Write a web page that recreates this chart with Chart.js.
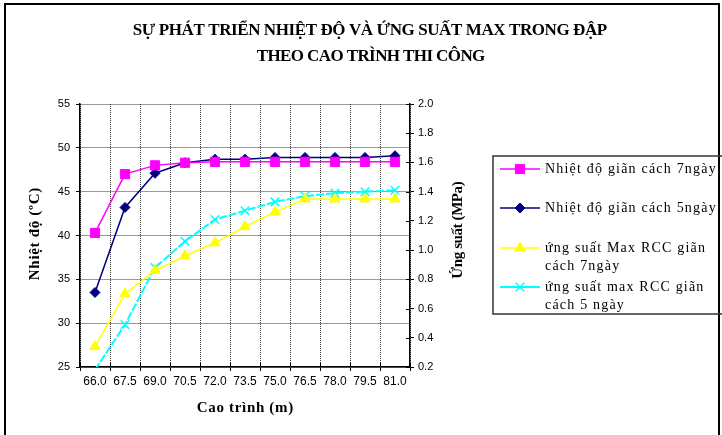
<!DOCTYPE html>
<html>
<head>
<meta charset="utf-8">
<script src="https://cdn.jsdelivr.net/npm/chart.js@4.4.0/dist/chart.umd.min.js"></script>
<style>
  html, body { margin: 0; padding: 0; background: #fff; }
  #chart { display: block; }
</style>
</head>
<body>
<canvas id="chart" width="722" height="435"></canvas>
<script>
// cao trình thi công (m)
const caoTrinh = ["66.0", "67.5", "69.0", "70.5", "72.0", "73.5", "75.0", "76.5", "78.0", "79.5", "81.0"];

// nhiệt độ max (°C)
const nhietDo7ngay = [40.3, 47.0, 48.0, 48.3, 48.4, 48.4, 48.4, 48.4, 48.4, 48.4, 48.4];
const nhietDo5ngay = [33.5, 43.2, 47.1, 48.3, 48.7, 48.7, 48.9, 48.9, 48.9, 48.9, 49.1];

// ứng suất max (MPa)
const ungSuat7ngay = [0.34, 0.70, 0.86, 0.96, 1.05, 1.16, 1.26, 1.35, 1.35, 1.35, 1.35];
const ungSuat5ngay = [0.18, 0.49, 0.88, 1.06, 1.21, 1.27, 1.33, 1.37, 1.39, 1.40, 1.41];

const tieuDe = ["SỰ PHÁT TRIỂN NHIỆT ĐỘ VÀ ỨNG SUẤT MAX TRONG ĐẬP", "THEO CAO TRÌNH THI CÔNG"];
const chuGiai = [
  ["Nhiệt độ giãn cách 7ngày"],
  ["Nhiệt độ giãn cách 5ngày"],
  ["ứng suất Max RCC giãn", "cách 7ngày"],
  ["ứng suất max RCC giãn", "cách 5 ngày"]
];

const sans = "'Liberation Sans', Arial, sans-serif";
const serif = "'Liberation Serif', 'Times New Roman', serif";

// markers outside the plot area are not drawn
const hideOutside = (r) => (ctx) => {
  const v = ctx.raw;
  return (v == null || v < 0.2 || v > 2.0) ? 0 : r;
};

// spread the letters so a line of text covers the given width
function spreadText(ctx, text, x, y, width) {
  ctx.letterSpacing = "0px";
  const w = ctx.measureText(text).width;
  const sp = (width - w) / text.length;
  ctx.letterSpacing = sp + "px";
  ctx.fillText(text, x + sp / 2, y);
  ctx.letterSpacing = "0px";
  return sp;
}

const khung = {
  id: "khung",
  afterDraw(chart) {
    const ctx = chart.ctx;
    const area = chart.chartArea;
    ctx.save();

    // outer frame
    ctx.strokeStyle = "#000";
    ctx.lineWidth = 2;
    ctx.strokeRect(5, 4, 714, 440);

    // inner tick marks on the right and bottom axes
    ctx.lineWidth = 1;
    const y1 = chart.scales.y1;
    y1.ticks.forEach((t, i) => {
      const py = Math.round(y1.getPixelForTick(i)) + 0.5;
      ctx.beginPath();
      ctx.moveTo(area.right - 4, py);
      ctx.lineTo(area.right, py);
      ctx.stroke();
    });
    for (let i = 0; i <= caoTrinh.length; i++) {
      const px = Math.round(area.left + (area.right - area.left) * i / caoTrinh.length) + 0.5;
      ctx.beginPath();
      ctx.moveTo(px, area.bottom - 4);
      ctx.lineTo(px, area.bottom);
      ctx.stroke();
    }

    // title
    ctx.fillStyle = "#000";
    ctx.textAlign = "center";
    ctx.textBaseline = "middle";
    ctx.font = "bold 17px " + serif;
    spreadText(ctx, tieuDe[0], 370, 31, 474);
    spreadText(ctx, tieuDe[1], 371, 57, 228);

    // axis titles
    ctx.font = "bold 15px " + serif;
    spreadText(ctx, "Cao trình (m)", 245, 408, 97);
    ctx.save();
    ctx.translate(35, 234);
    ctx.rotate(-Math.PI / 2);
    spreadText(ctx, "Nhiệt độ (ºC)", 0, 0, 93);
    ctx.restore();
    ctx.save();
    ctx.translate(458, 230);
    ctx.rotate(-Math.PI / 2);
    spreadText(ctx, "Ứng suất (MPa)", 0, 0, 97);
    ctx.restore();

    // legend
    ctx.strokeStyle = "#333";
    ctx.lineWidth = 1.5;
    ctx.strokeRect(493, 156, 240, 158);
    const rowY = [169, 208, 248, 287];
    ctx.font = "14px " + serif;
    ctx.textAlign = "left";
    chart.data.datasets.forEach((ds, i) => {
      const y = rowY[i];
      ctx.save();
      ctx.strokeStyle = ds.borderColor;
      ctx.lineWidth = ds.borderWidth;
      ctx.beginPath();
      ctx.moveTo(500, y);
      ctx.lineTo(540, y);
      ctx.stroke();
      ctx.fillStyle = ds.pointBackgroundColor;
      ctx.strokeStyle = ds.pointBorderColor;
      ctx.lineWidth = ds.pointBorderWidth;
      Chart.helpers.drawPoint(ctx, {
        pointStyle: ds.pointStyle,
        radius: ds.legendRadius,
        rotation: 0,
        borderWidth: ds.pointBorderWidth
      }, 520, y);
      ctx.restore();
      ctx.letterSpacing = "1.2px";
      chuGiai[i].forEach((line, k) => {
        ctx.fillText(line, 545, y + k * 18);
      });
      ctx.letterSpacing = "0px";
    });

    ctx.restore();
  }
};

new Chart(document.getElementById("chart"), {
  type: "line",
  data: {
    labels: caoTrinh,
    datasets: [
      {
        label: chuGiai[0].join(" "),
        data: nhietDo7ngay,
        yAxisID: "y",
        borderColor: "#ff00ff",
        borderWidth: 1.5,
        pointStyle: "rect",
        pointRadius: 6.5,
        legendRadius: 6.5,
        pointBackgroundColor: "#ff00ff",
        pointBorderColor: "#ff00ff",
        pointBorderWidth: 1,
        tension: 0
      },
      {
        label: chuGiai[1].join(" "),
        data: nhietDo5ngay,
        yAxisID: "y",
        borderColor: "#000080",
        borderWidth: 1.5,
        pointStyle: "rectRot",
        pointRadius: 5,
        legendRadius: 5,
        pointBackgroundColor: "#000080",
        pointBorderColor: "#000080",
        pointBorderWidth: 1,
        tension: 0
      },
      {
        label: chuGiai[2].join(" "),
        data: ungSuat7ngay,
        yAxisID: "y1",
        borderColor: "#ffff00",
        borderWidth: 1.5,
        pointStyle: "triangle",
        pointRadius: hideOutside(6),
        legendRadius: 6,
        pointBackgroundColor: "#ffff00",
        pointBorderColor: "#ffff00",
        pointBorderWidth: 1,
        tension: 0
      },
      {
        label: chuGiai[3].join(" "),
        data: ungSuat5ngay,
        yAxisID: "y1",
        borderColor: "#00ffff",
        borderWidth: 2,
        borderDash: [8, 2],
        pointStyle: "crossRot",
        pointRadius: hideOutside(6),
        legendRadius: 6,
        pointBackgroundColor: "#00ffff",
        pointBorderColor: "#00ffff",
        pointBorderWidth: 1.5,
        clip: 0,
        tension: 0
      }
    ]
  },
  options: {
    responsive: false,
    animation: false,
    events: [],
    layout: { padding: { top: 104, left: 0, right: 252, bottom: 38 } },
    plugins: {
      legend: { display: false },
      title: { display: false },
      tooltip: { enabled: false }
    },
    scales: {
      x: {
        offset: true,
        grid: { offset: true, color: "#333", lineWidth: 1, tickLength: 4, tickColor: "#000" },
        border: { color: "#000", width: 1.5, dash: [1, 1] },
        ticks: { font: { family: sans, size: 12 }, color: "#000", padding: 3, maxRotation: 0, autoSkip: false },
        afterFit: (s) => { s.height = 30; }
      },
      y: {
        position: "left",
        min: 25,
        max: 55,
        grid: { color: "#333", lineWidth: 1, tickLength: 4, tickColor: "#000" },
        border: { color: "#000", width: 1.5, dash: [1, 1] },
        ticks: { stepSize: 5, font: { family: sans, size: 11 }, color: "#000", padding: 6 },
        afterFit: (s) => { s.width = 80; }
      },
      y1: {
        position: "right",
        min: 0.2,
        max: 2.0,
        grid: { drawOnChartArea: false, tickLength: 4, tickColor: "#000" },
        border: { color: "#000", width: 1.5 },
        ticks: {
          stepSize: 0.2,
          font: { family: sans, size: 11 },
          color: "#000",
          padding: 4,
          callback: (v) => Number(v).toFixed(1)
        },
        afterFit: (s) => { s.width = 60; }
      }
    }
  },
  plugins: [khung]
});
</script>
</body>
</html>
